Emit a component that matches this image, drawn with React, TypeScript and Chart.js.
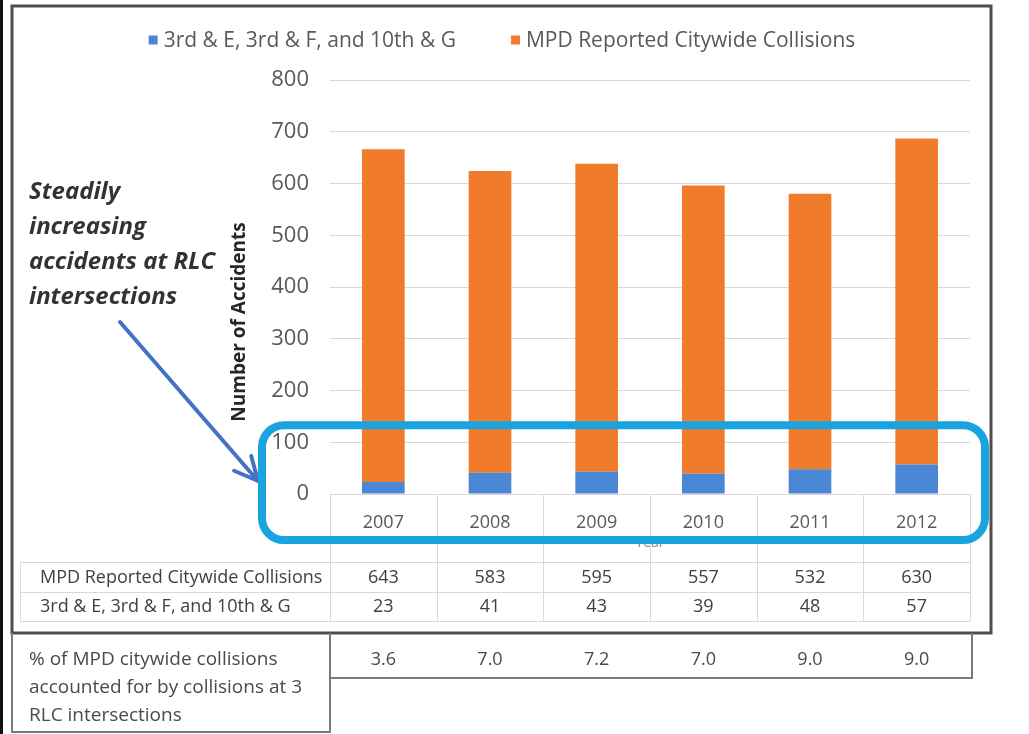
import React, { useEffect, useRef } from "react";
import { Chart, registerables } from "chart.js";

Chart.register(...registerables);

const years = ["2007", "2008", "2009", "2010", "2011", "2012"];
const rlcCollisions = [23, 41, 43, 39, 48, 57];
const citywideCollisions = [643, 583, 595, 557, 532, 630];
const percentOfCitywide = ["3.6", "7.0", "7.2", "7.0", "9.0", "9.0"];
const seriesLabels = ["3rd & E, 3rd & F, and 10th & G", "MPD Reported Citywide Collisions"];
const seriesColors = ["#4a87d4", "#ef7b2b"];
const yMax = 800;
const yStep = 100;
const yTitle = "Number of Accidents";
const xTitle = "Year";
const annotationLines = ["Steadily", "increasing", "accidents at RLC", "intersections"];
const percentLabelLines = [
  "% of MPD citywide collisions",
  "accounted for by collisions at 3",
  "RLC intersections",
];
const tableRows = [
  { label: "MPD Reported Citywide Collisions", values: citywideCollisions },
  { label: "3rd & E, 3rd & F, and 10th & G", values: rlcCollisions },
];

const FONT = "'Open Sans', Lato, sans-serif";

const decorPlugin = {
  id: "decor",
  afterDraw(chart: any) {
    const { ctx, chartArea: ca } = chart;
    const x = chart.scales.x;
    const y = chart.scales.y;
    const n = years.length;
    const half = (x.getPixelForValue(1) - x.getPixelForValue(0)) / 2;
    const centers = years.map((_, i) => x.getPixelForValue(i));
    const bounds = centers.map((c) => c - half).concat([centers[n - 1] + half]);

    ctx.save();

    // legend (custom, centered)
    ctx.font = `21px ${FONT}`;
    ctx.textBaseline = "middle";
    const box = 9;
    const gapBoxText = 6;
    const gapItems = 55;
    const widths = chart.data.datasets.map((d: any) => ctx.measureText(d.label).width);
    const total = widths.reduce((a: number, w: number) => a + box + gapBoxText + w, 0) + gapItems * (widths.length - 1);
    let lx = 502 - total / 2;
    const ly = 40;
    chart.data.datasets.forEach((d: any, i: number) => {
      ctx.fillStyle = d.backgroundColor;
      ctx.fillRect(lx, ly - box / 2, box, box);
      ctx.fillStyle = "#595959";
      ctx.textAlign = "left";
      ctx.fillText(d.label, lx + box + gapBoxText, ly + 1);
      lx += box + gapBoxText + widths[i] + gapItems;
    });

    // y axis title
    ctx.save();
    ctx.translate(240, 322);
    ctx.rotate(-Math.PI / 2);
    ctx.font = `bold 19px ${FONT}`;
    ctx.fillStyle = "#262626";
    ctx.textAlign = "center";
    ctx.textBaseline = "middle";
    ctx.fillText(yTitle, 0, 0);
    ctx.restore();

    // data table inside the chart
    const tTop = ca.bottom + 68;
    const rowH = 29.5;
    const tBottom = tTop + rowH * 2;
    ctx.strokeStyle = "#d9d9d9";
    ctx.lineWidth = 1;
    bounds.forEach((bx: number) => {
      ctx.beginPath();
      ctx.moveTo(Math.round(bx) + 0.5, ca.bottom);
      ctx.lineTo(Math.round(bx) + 0.5, tBottom);
      ctx.stroke();
    });
    [tTop, tTop + rowH, tBottom].forEach((ty) => {
      ctx.beginPath();
      ctx.moveTo(20, Math.round(ty) + 0.5);
      ctx.lineTo(bounds[n], Math.round(ty) + 0.5);
      ctx.stroke();
    });
    ctx.beginPath();
    ctx.moveTo(20.5, tTop);
    ctx.lineTo(20.5, tBottom);
    ctx.stroke();

    ctx.font = `18px ${FONT}`;
    ctx.fillStyle = "#404040";
    tableRows.forEach((row, r) => {
      const cy = tTop + rowH * r + rowH / 2 + 1;
      ctx.textAlign = "left";
      ctx.fillText(row.label, 40, cy);
      ctx.textAlign = "center";
      row.values.forEach((v, i) => ctx.fillText(String(v), centers[i], cy));
    });

    // chart frame
    ctx.strokeStyle = "#4d4d4d";
    ctx.lineWidth = 3;
    ctx.strokeRect(12, 6, 979, 627);

    // far-left black edge
    ctx.fillStyle = "#111";
    ctx.fillRect(0, 0, 3, 734);

    // percentage table
    ctx.strokeStyle = "#7a7a7a";
    ctx.lineWidth = 2;
    ctx.beginPath();
    ctx.moveTo(12, 633);
    ctx.lineTo(12, 732);
    ctx.lineTo(330, 732);
    ctx.lineTo(330, 633);
    ctx.moveTo(330, 678);
    ctx.lineTo(972, 678);
    ctx.lineTo(972, 633);
    ctx.stroke();

    ctx.font = `19px ${FONT}`;
    ctx.fillStyle = "#4a4a4a";
    ctx.textAlign = "left";
    percentLabelLines.forEach((t, i) => ctx.fillText(t, 29, 660 + i * 28));
    ctx.font = `18px ${FONT}`;
    ctx.textAlign = "center";
    percentOfCitywide.forEach((v, i) => ctx.fillText(v, centers[i], 660));

    // annotation text
    ctx.font = `italic bold 24px ${FONT}`;
    ctx.fillStyle = "#333333";
    ctx.textAlign = "left";
    annotationLines.forEach((t, i) => ctx.fillText(t, 29, 192 + i * 35));

    // arrow
    const ax0 = 120, ay0 = 322, ax1 = 258, ay1 = 481;
    ctx.strokeStyle = "#4472c4";
    ctx.lineWidth = 4;
    ctx.lineCap = "round";
    ctx.beginPath();
    ctx.moveTo(ax0, ay0);
    ctx.lineTo(ax1, ay1);
    const ang = Math.atan2(ay1 - ay0, ax1 - ax0);
    const hl = 26;
    ctx.moveTo(ax1, ay1);
    ctx.lineTo(ax1 - hl * Math.cos(ang - 0.45), ay1 - hl * Math.sin(ang - 0.45));
    ctx.moveTo(ax1, ay1);
    ctx.lineTo(ax1 - hl * Math.cos(ang + 0.45), ay1 - hl * Math.sin(ang + 0.45));
    ctx.stroke();

    // cyan highlight box
    const bxL = ca.left - 68;
    const bxR = ca.right + 15;
    const bxT = y.getPixelForValue(133);
    const bxB = ca.bottom + 46;
    const rad = 22;
    ctx.strokeStyle = "#19a3df";
    ctx.lineWidth = 8;
    ctx.beginPath();
    ctx.moveTo(bxL + rad, bxT);
    ctx.lineTo(bxR - rad, bxT);
    ctx.arcTo(bxR, bxT, bxR, bxT + rad, rad);
    ctx.lineTo(bxR, bxB - rad);
    ctx.arcTo(bxR, bxB, bxR - rad, bxB, rad);
    ctx.lineTo(bxL + rad, bxB);
    ctx.arcTo(bxL, bxB, bxL, bxB - rad, rad);
    ctx.lineTo(bxL, bxT + rad);
    ctx.arcTo(bxL, bxT, bxL + rad, bxT, rad);
    ctx.closePath();
    ctx.stroke();

    ctx.restore();
  },
};

export default function App() {
  const ref = useRef<HTMLCanvasElement | null>(null);

  useEffect(() => {
    if (!ref.current) return;
    const chart = new Chart(ref.current, {
      type: "bar",
      data: {
        labels: years,
        datasets: [
          {
            label: seriesLabels[0],
            data: rlcCollisions,
            backgroundColor: seriesColors[0],
            barPercentage: 0.4,
            categoryPercentage: 1,
          },
          {
            label: seriesLabels[1],
            data: citywideCollisions,
            backgroundColor: seriesColors[1],
            barPercentage: 0.4,
            categoryPercentage: 1,
          },
        ],
      },
      options: {
        responsive: false,
        animation: false,
        devicePixelRatio: 1,
        layout: { padding: { left: 12, right: 59, top: 80, bottom: 178 } },
        plugins: {
          legend: { display: false },
          tooltip: { enabled: false },
        },
        scales: {
          x: {
            stacked: true,
            grid: { display: false },
            border: { display: false },
            ticks: { color: "#595959", font: { family: FONT, size: 18 }, padding: 10 },
            title: {
              display: true,
              text: xTitle,
              color: "#8a8a8a",
              font: { family: FONT, size: 14 },
              padding: { top: 0, bottom: 5 },
            },
            afterFit: (s: any) => {
              s.height = 62;
            },
          },
          y: {
            stacked: true,
            min: 0,
            max: yMax,
            ticks: {
              stepSize: yStep,
              color: "#595959",
              font: { family: FONT, size: 22 },
              padding: 21,
            },
            grid: { color: "#d9d9d9", drawTicks: false },
            border: { display: false },
            afterFit: (s: any) => {
              s.width = 318;
            },
          },
        },
      },
      plugins: [decorPlugin],
    });
    return () => chart.destroy();
  }, []);

  return (
    <div style={{ position: "absolute", left: 0, top: 0, width: 1029, height: 734, background: "#fff" }}>
      <canvas ref={ref} width={1029} height={734} style={{ display: "block", width: 1029, height: 734 }} />
    </div>
  );
}
